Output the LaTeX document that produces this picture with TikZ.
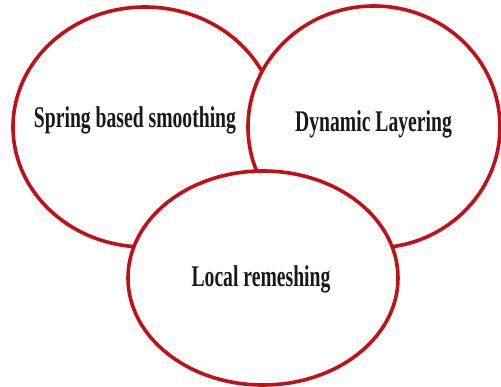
\documentclass[tikz,border=0pt]{standalone}
\usepackage{fontspec}
\setmainfont{Liberation Serif}
\newfontfamily\condfont[FakeStretch=0.655]{Liberation Serif}
\usetikzlibrary{shapes.geometric}
\definecolor{ringred}{RGB}{192,16,24}
\begin{document}
\begin{tikzpicture}[x=1pt,y=-1pt,
  ring/.style={ellipse, draw=ringred, line width=3.6pt, fill=white, inner sep=0pt, outer sep=0pt},
  lbl/.style={anchor=base, inner sep=0pt, font=\condfont\bfseries\fontsize{30}{36}\selectfont, text=black!90}]
\useasboundingbox (0,0) rectangle (501,387);
\node[ring, minimum width=264pt, minimum height=240pt] (left) at (145,127) {};
\node[ring, minimum width=252pt, minimum height=242pt] (right) at (374,127) {};
\node[ring, minimum width=270pt, minimum height=214pt] (bottom) at (263,278) {};
\node[lbl] (t1) at (135,128) {Spring based smoothing};
\node[lbl] (t2) at (373.5,132) {Dynamic Layering};
\node[lbl] (t3) at (261,287) {Local remeshing};
\end{tikzpicture}
\end{document}
